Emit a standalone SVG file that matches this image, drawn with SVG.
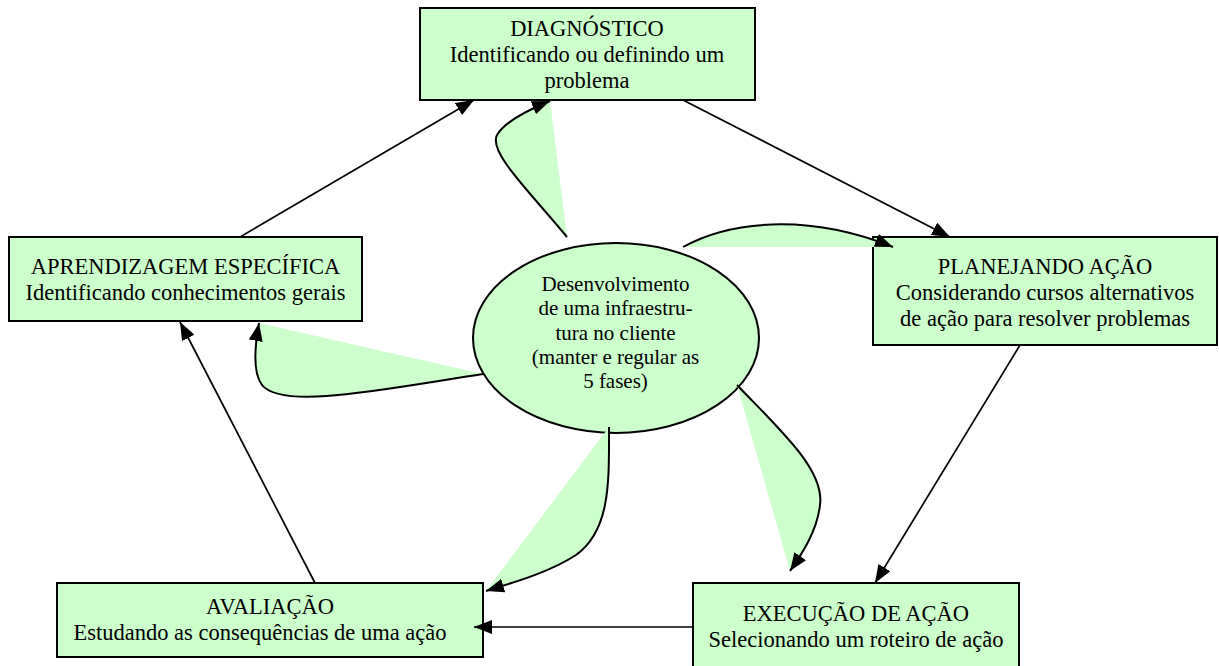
<svg xmlns="http://www.w3.org/2000/svg" width="1219" height="666" viewBox="0 0 1219 666">
  <style>
    .box { fill: #ccffcc; stroke: #000; stroke-width: 2; }
    .lbl { font-family: "Liberation Serif", "Times New Roman", serif; font-size: 22.5px; fill: #000; text-anchor: middle; }
    .elbl { font-family: "Liberation Serif", "Times New Roman", serif; font-size: 21px; fill: #000; text-anchor: middle; }
    .edge { fill: none; stroke: #000; stroke-width: 1.7; marker-end: url(#arrow); }
    .swoosh { fill: #ccffcc; stroke: #000; stroke-width: 2; marker-end: url(#arrow); }
  </style>
  <defs>
    <marker id="arrow" viewBox="0 0 18 14" refX="18" refY="7" markerWidth="18" markerHeight="14" markerUnits="userSpaceOnUse" orient="auto">
      <path d="M0,0 L18,7 L0,14 z" fill="#000"/>
    </marker>
  </defs>

  <rect width="1219" height="666" fill="#fff"/>

  <g id="diagnostico">
    <rect class="box" x="420" y="8" width="335" height="92"/>
    <text class="lbl" x="587" y="36">DIAGNÓSTICO</text>
    <text class="lbl" x="587" y="62">Identificando ou definindo um</text>
    <text class="lbl" x="587" y="88">problema</text>
  </g>

  <g id="aprendizagem">
    <rect class="box" x="9" y="237" width="353" height="84"/>
    <text class="lbl" x="185.5" y="274">APRENDIZAGEM ESPECÍFICA</text>
    <text class="lbl" x="185.5" y="300">Identificando conhecimentos gerais</text>
  </g>

  <g id="planejando">
    <rect class="box" x="873" y="237" width="344" height="108"/>
    <text class="lbl" x="1045" y="274">PLANEJANDO AÇÃO</text>
    <text class="lbl" x="1045" y="300">Considerando cursos alternativos</text>
    <text class="lbl" x="1045" y="326">de ação para resolver problemas</text>
  </g>

  <g id="execucao">
    <rect class="box" x="693" y="583" width="326" height="95"/>
    <text class="lbl" x="856" y="621">EXECUÇÃO DE AÇÃO</text>
    <text class="lbl" x="856" y="647">Selecionando um roteiro de ação</text>
  </g>

  <g id="avaliacao">
    <rect class="box" x="57" y="583" width="426" height="74"/>
    <text class="lbl" x="270" y="614">AVALIAÇÃO</text>
    <text class="lbl" x="260" y="640">Estudando as consequências de uma ação</text>
  </g>

  <g id="infraestrutura">
    <ellipse class="box" cx="616" cy="338" rx="143" ry="95"/>
    <text class="elbl" x="615.5" y="291">Desenvolvimento</text>
    <text class="elbl" x="615.5" y="315">de uma infraestru-</text>
    <text class="elbl" x="615.5" y="340">tura no cliente</text>
    <text class="elbl" x="615.5" y="364">(manter e regular as</text>
    <text class="elbl" x="615.5" y="388">5 fases)</text>
  </g>

  <g id="connectors">
    <!-- curved links from the centre ellipse, filled between curve and chord -->
    <path class="swoosh" d="M567,237 C530,192 488,152 497,135 C505,121 528,110 550,101"/>
    <path class="swoosh" d="M683,247 C728,222 805,212 893,247"/>
    <path class="swoosh" d="M737,385 C780,430 825,470 820,505 C817,532 801,555 790,571"/>
    <path class="swoosh" d="M609,427 C609,480 611,530 576,555 C550,572 515,582 486,591"/>
    <path class="swoosh" d="M483,374 C380,390 282,410 262,385 C252,372 255,345 259,323"/>

    <!-- cycle of the five phases -->
    <line class="edge" x1="240" y1="237" x2="474" y2="100"/>
    <line class="edge" x1="683" y1="100" x2="950" y2="237"/>
    <line class="edge" x1="1020" y1="345" x2="875" y2="583"/>
    <line class="edge" x1="693" y1="627" x2="474" y2="627"/>
    <line class="edge" x1="315" y1="583" x2="180" y2="322"/>
  </g>
</svg>
